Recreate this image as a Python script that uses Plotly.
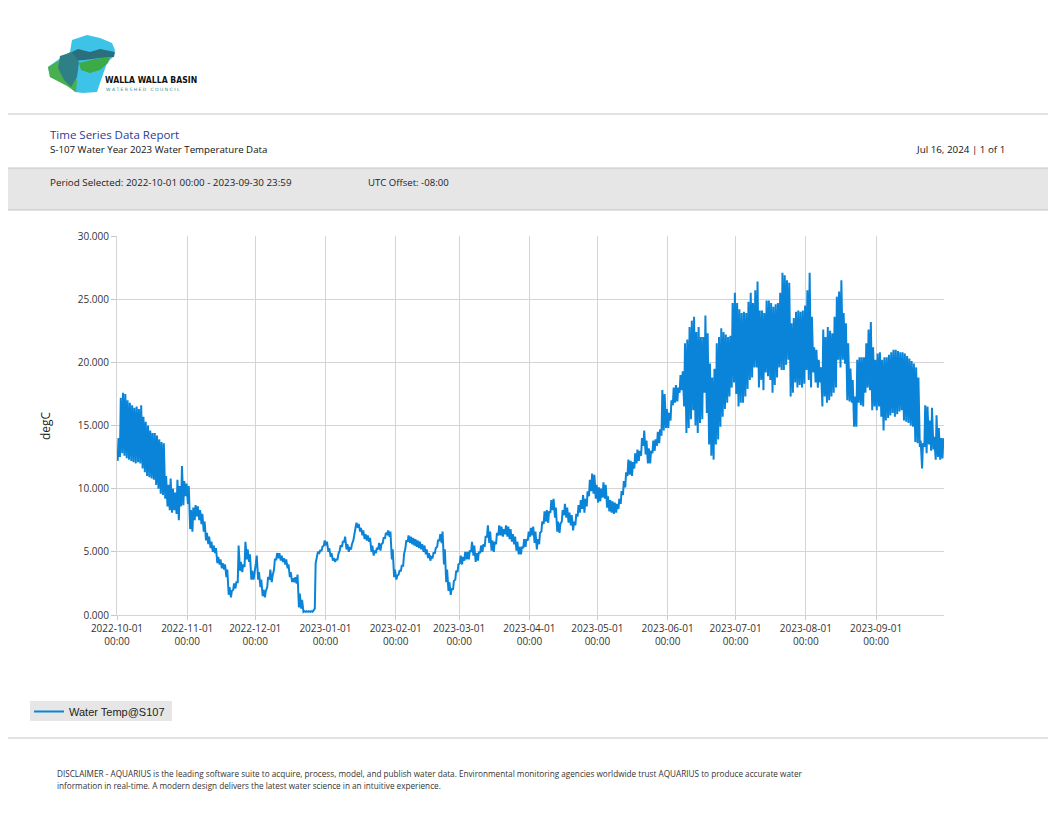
import pandas as pd
import plotly.graph_objects as go

# daily low / high water temperature (degC), 2022-10-01 .. 2023-09-30
start_day = "2022-10-01"

daily_low = [
    # Oct
    12.2, 12.5, 12.8, 12.6, 12.4, 12.3, 12.2, 12.1, 12.0, 12.1, 12.0, 11.6, 11.3, 11.0, 10.9, 10.8,
    10.7, 10.3, 10.0, 9.6, 9.5, 9.2, 8.6, 8.3, 8.1, 8.3, 8.0, 7.5, 8.6, 8.7, 9.4,
    # Nov
    8.8, 6.8, 6.6, 7.5, 7.8, 7.5, 7.2, 6.6, 5.9, 5.6, 5.3, 5.0, 4.9, 4.1, 4.0,
    3.7, 3.6, 3.0, 1.6, 1.4, 2.0, 2.1, 2.6, 3.5, 3.4, 3.8, 4.4, 4.2, 2.8, 2.8,
    # Dec
    4.1, 2.8, 2.2, 1.5, 1.4, 2.2, 2.8, 2.6, 3.6, 4.4, 4.5, 4.3, 4.2, 4.0, 3.7, 3.0,
    2.6, 2.6, 2.5, 0.6, 0.5, 0.25, 0.25, 0.25, 0.25, 0.25, 0.5, 4.6, 4.9, 5.1, 5.5,
    # Jan
    5.5, 5.0, 4.6, 4.3, 4.2, 4.4, 5.1, 5.4, 5.8, 5.2, 5.0, 5.2, 5.9, 6.8, 6.9, 6.6,
    6.3, 6.0, 5.9, 5.8, 5.0, 4.7, 4.9, 5.2, 5.1, 5.7, 6.1, 6.4, 6.2, 4.4, 3.0,
    # Feb
    2.8, 3.2, 3.5, 3.9, 5.3, 5.8, 5.7, 5.6, 5.5, 5.4, 5.3, 5.2, 5.0, 4.8,
    4.5, 4.3, 4.5, 4.9, 5.4, 5.9, 5.7, 4.0, 2.6, 1.9, 1.6, 2.0, 2.8, 3.4,
    # Mar
    4.1, 4.0, 4.3, 4.4, 4.4, 5.0, 4.7, 4.2, 4.3, 4.9, 5.0, 5.4, 6.2, 5.7, 5.1, 5.0,
    5.6, 6.3, 6.3, 6.2, 6.4, 6.2, 6.0, 5.8, 5.6, 5.1, 4.8, 4.8, 5.3, 5.4, 5.9,
    # Apr
    6.2, 6.3, 5.7, 5.2, 5.6, 6.6, 7.2, 7.4, 7.3, 8.1, 8.3, 7.7, 6.6, 6.5, 7.4,
    7.9, 7.7, 7.3, 7.1, 6.7, 7.1, 7.8, 8.1, 8.4, 8.1, 8.6, 9.4, 9.8, 9.6, 9.2,
    # May
    8.9, 9.0, 9.3, 9.2, 8.5, 8.2, 8.1, 8.0, 8.1, 8.4, 8.8, 9.5, 10.1, 11.0, 11.1, 11.0,
    11.6, 12.0, 12.2, 12.6, 13.4, 12.7, 12.0, 12.0, 12.8, 13.0, 13.4, 13.6, 14.2, 14.6, 14.8,
    # Jun
    14.8, 15.4, 16.6, 16.8, 16.9, 17.6, 17.8, 16.5, 14.4, 14.8, 15.5, 16.2, 15.0, 14.4, 15.2,
    15.5, 17.6, 16.0, 13.5, 12.6, 12.3, 13.5, 13.9, 14.9, 15.7, 16.3, 16.8, 17.3, 18.0, 18.4,
    # Jul
    17.5, 16.5, 16.8, 16.8, 17.3, 17.9, 18.6, 18.8, 19.6, 19.6, 18.0, 18.6, 17.8, 19.2, 18.9, 18.6,
    17.6, 18.2, 18.8, 19.6, 19.4, 19.4, 19.8, 20.2, 17.3, 17.6, 18.4, 18.0, 18.2, 18.0, 18.3,
    # Aug
    19.4, 18.6, 18.0, 19.2, 18.4, 18.0, 18.4, 16.5, 17.3, 16.8, 17.0, 17.3, 17.6, 18.0, 20.2, 19.6,
    20.2, 19.9, 17.0, 16.9, 16.8, 14.9, 14.9, 16.8, 16.6, 16.5, 17.6, 18.0, 17.8, 16.2, 16.5,
    # Sep
    16.2, 16.5, 15.7, 14.6, 15.4, 15.6, 15.8, 16.0, 15.7, 15.9, 16.1, 16.2, 15.4, 15.3, 15.2,
    15.0, 14.9, 13.7, 13.6, 13.3, 11.6, 13.3, 12.8, 13.5, 13.0, 13.1, 12.3, 12.5, 12.3, 12.4,
]

daily_high = [
    # Oct
    14.0, 17.2, 17.6, 17.5, 17.0, 16.8, 16.6, 16.4, 16.5, 16.3, 16.6, 15.7, 15.3, 15.0, 14.6, 14.4,
    14.4, 14.2, 13.9, 13.7, 13.6, 11.0, 10.3, 10.8, 10.0, 9.7, 10.7, 10.2, 11.8, 10.6, 10.4,
    # Nov
    10.2, 8.3, 8.5, 8.7, 8.6, 8.3, 8.0, 7.4, 6.5, 6.2, 5.8, 5.5, 5.3, 4.6, 4.4,
    4.1, 4.0, 3.6, 2.2, 1.9, 2.5, 2.6, 5.5, 4.2, 4.0, 5.8, 5.2, 4.8, 3.5, 3.2,
    # Dec
    4.7, 3.4, 2.8, 2.0, 1.9, 3.0, 3.6, 3.1, 4.4, 4.9, 4.9, 4.7, 4.5, 4.4, 4.0, 3.4,
    2.9, 3.0, 3.2, 1.7, 1.2, 0.3, 0.3, 0.3, 0.3, 0.35, 4.1, 5.0, 5.1, 5.4, 5.9,
    # Jan
    5.8, 5.3, 4.9, 4.5, 4.4, 4.8, 5.5, 5.8, 6.2, 5.6, 5.3, 5.6, 6.3, 7.3, 7.2, 6.9,
    6.7, 6.4, 6.3, 6.1, 5.5, 5.1, 5.3, 5.7, 5.6, 6.1, 6.5, 6.7, 6.6, 5.2, 3.6,
    # Feb
    3.1, 3.5, 3.9, 4.8, 5.9, 6.3, 6.2, 6.1, 6.0, 5.9, 5.8, 5.6, 5.5, 5.2,
    4.9, 4.6, 4.9, 5.3, 5.9, 6.4, 6.6, 5.2, 3.6, 2.6, 2.1, 2.7, 3.5, 4.0,
    # Mar
    4.7, 4.6, 5.0, 5.0, 5.1, 5.8, 5.5, 4.9, 5.0, 5.5, 5.6, 6.2, 7.1, 6.6, 5.9, 5.8,
    6.5, 7.1, 7.0, 6.8, 7.1, 7.0, 6.8, 6.4, 6.2, 5.8, 5.4, 5.4, 6.0, 6.0, 6.6,
    # Apr
    6.9, 7.0, 6.6, 6.0, 6.5, 7.4, 8.2, 8.3, 8.2, 9.1, 9.2, 8.5, 7.4, 7.2, 8.3,
    8.8, 8.5, 8.1, 7.9, 7.4, 8.0, 8.7, 9.1, 9.5, 9.2, 9.8, 10.7, 11.2, 11.1, 10.3,
    # May
    10.1, 10.0, 10.5, 10.3, 9.4, 9.1, 9.0, 8.9, 8.8, 9.2, 9.8, 10.6, 11.3, 12.3, 12.2, 12.1,
    12.8, 13.1, 13.0, 14.0, 14.6, 13.8, 13.2, 13.0, 13.8, 13.9, 14.5, 14.7, 17.8, 17.5, 16.3,
    # Jun
    16.0, 17.0, 18.0, 18.2, 18.0, 19.0, 19.3, 21.5, 21.8, 22.8, 23.3, 23.6, 22.4, 22.8, 22.0,
    22.0, 23.7, 22.3, 19.9, 18.8, 19.5, 21.5, 22.0, 22.7, 22.4, 22.2, 22.0, 22.1, 24.7, 25.5,
    # Jul
    24.7, 24.2, 23.9, 24.0, 23.9, 24.8, 25.5, 24.7, 25.7, 26.4, 24.1, 24.1, 23.9, 24.9, 24.9, 24.7,
    24.4, 24.6, 24.7, 25.5, 27.1, 26.9, 26.5, 26.3, 23.1, 23.5, 24.0, 24.1, 24.0, 24.1, 24.5,
    # Aug
    25.7, 27.1, 23.6, 21.2, 21.0, 20.2, 19.6, 22.6, 22.0, 22.8, 22.5, 22.3, 23.6, 25.2, 25.6, 26.5,
    23.9, 23.1, 21.5, 19.5, 18.6, 17.3, 20.2, 20.4, 20.4, 20.4, 21.5, 22.6, 23.2, 21.2, 20.2,
    # Sep
    20.7, 20.8, 20.2, 20.4, 20.4, 20.6, 20.8, 21.0, 21.0, 20.9, 20.8, 20.8, 20.7, 20.5, 20.3,
    20.1, 19.9, 19.6, 18.8, 13.8, 13.6, 16.6, 16.5, 15.4, 16.4, 14.1, 15.8, 14.8, 14.0, 14.0,
]

series_name = "Water Temp@S107"
report_title = "Time Series Data Report"
report_subtitle = "S-107 Water Year 2023 Water Temperature Data"
report_date = "Jul 16, 2024 | 1 of 1"
period_text = "Period Selected: 2022-10-01 00:00 - 2023-09-30 23:59"
utc_text = "UTC Offset: -08:00"
disclaimer = [
    "DISCLAIMER - AQUARIUS is the leading software suite to acquire, process, model, and publish water data. "
    "Environmental monitoring agencies worldwide trust AQUARIUS to produce accurate water",
    "information in real-time. A modern design delivers the latest water science in an intuitive experience.",
]

assert len(daily_low) == len(daily_high) == 365

days = pd.date_range(start_day, periods=len(daily_low), freq="D")
times, temps = [], []
for d, lo, hi in zip(days, daily_low, daily_high):
    times += [d + pd.Timedelta(hours=7), d + pd.Timedelta(hours=16)]
    temps += [lo, hi]

# page geometry in screen pixels; the page body adds an 8px offset
W, H = 1056, 816
OFF = 8
L, R, T, B = 117 - OFF, 944 - OFF, 236 - OFF, 615 - OFF


def px(x):
    return (x - OFF - L) / (R - L)


def py(y):
    return (B - (y - OFF)) / (B - T)


def path(pts):
    return "M " + " L ".join(f"{px(x):.5f},{py(y):.5f}" for x, y in pts) + " Z"


fig = go.Figure()
fig.add_trace(go.Scatter(x=times, y=temps, mode="lines", name=series_name,
                         line=dict(color="#0a84d8", width=2)))

shapes = []
# separators and grey info band
shapes.append(dict(type="line", xref="paper", yref="paper", x0=px(0), x1=px(W + 8), y0=py(114), y1=py(114),
                   line=dict(color="#c4c4c4", width=1)))
shapes.append(dict(type="rect", xref="paper", yref="paper", x0=px(0), x1=px(W + 8), y0=py(210), y1=py(168),
                   fillcolor="#e6e6e6", line=dict(color="#c4c4c4", width=1), layer="below"))
shapes.append(dict(type="line", xref="paper", yref="paper", x0=px(0), x1=px(W + 8), y0=py(738), y1=py(738),
                   line=dict(color="#c4c4c4", width=1)))
# legend box
shapes.append(dict(type="rect", xref="paper", yref="paper", x0=px(30), x1=px(172), y0=py(721), y1=py(701),
                   fillcolor="#e6e6e6", line=dict(width=0), layer="below"))

# rough logo
logo = [
    ("#3dc2e8", [(72, 40), (87, 35), (100, 38), (112, 43), (115, 50), (113, 57), (107, 63), (100, 83),
                 (97, 92), (83, 93), (75, 92), (67, 85), (50, 77), (48, 67), (62, 57), (70, 52)]),
    ("#2b6f7e", [(66, 55), (78, 49), (90, 52), (100, 49), (115, 52), (114, 57), (100, 58), (85, 60), (70, 61)]),
    ("#3daa48", [(79, 63), (95, 59), (110, 57), (108, 63), (100, 70), (90, 73), (81, 70)]),
    ("#49b04e", [(48, 67), (58, 61), (67, 70), (77, 80), (76, 92), (67, 86), (50, 77)]),
    ("#2f7f86", [(60, 56), (72, 52), (79, 62), (77, 77), (71, 87), (64, 80), (58, 68)]),
]
for color, pts in logo:
    shapes.append(dict(type="path", xref="paper", yref="paper", path=path(pts),
                       fillcolor=color, line=dict(width=0)))

base = "Open Sans"
ann = []


def text(x, y, s, size, color="#222", anchor="left", family=base, **kw):
    ann.append(dict(x=px(x), y=py(y), xref="paper", yref="paper", text=s, showarrow=False,
                    xanchor=anchor, yanchor="middle", font=dict(size=size, color=color, family=family), **kw))


text(103, 80, "<b>WALLA WALLA BASIN</b>", 8.6, "#111", family="DejaVu Sans Condensed, DejaVu Sans")
text(104, 89, "W A T E R S H E D   C O U N C I L", 4.5, "#2a8a9a", family="DejaVu Sans")
text(48, 135, report_title, 11.5, "#1f3c99")
text(48, 150, report_subtitle, 9.7, "#111")
text(1007, 150, report_date, 9.8, "#111", anchor="right")
text(48, 183, period_text, 9.8, "#222")
text(366, 183, utc_text, 9.6, "#222")
text(45, 426, "degC", 12, "#222", anchor="center", textangle=-90)
text(55, 773, disclaimer[0], 8.2, "#333")
text(55, 785, disclaimer[1], 8.2, "#333")

fig.update_layout(
    width=W, height=H,
    margin=dict(l=L, r=W - R, t=T, b=H - B),
    paper_bgcolor="white", plot_bgcolor="white",
    font=dict(family=base, size=10, color="#333"),
    shapes=shapes, annotations=ann,
    showlegend=True,
    legend=dict(x=px(29), y=py(697), xanchor="left", yanchor="top", bgcolor="rgba(0,0,0,0)",
                font=dict(family="Liberation Sans", size=11, color="#222"),
                itemwidth=30),
    xaxis=dict(type="date", range=["2022-10-01", "2023-09-30 23:00"], dtick="M1", tick0="2022-10-01",
               tickformat="%Y-%m-%d<br>%H:%M", showgrid=True, gridcolor="#d4d4d4", zeroline=False,
               ticks="outside", ticklen=4, tickcolor="#c8c8c8", showline=True, linecolor="#d4d4d4",
               tickfont=dict(size=10, color="#333")),
    yaxis=dict(range=[0, 30], dtick=5, tickformat=".3f", showgrid=True, gridcolor="#d4d4d4",
               zeroline=False, ticks="outside", ticklen=5, tickcolor="#c8c8c8", showline=True,
               linecolor="#d4d4d4", tickfont=dict(size=10, color="#333")),
)

fig.write_html("out.html")
